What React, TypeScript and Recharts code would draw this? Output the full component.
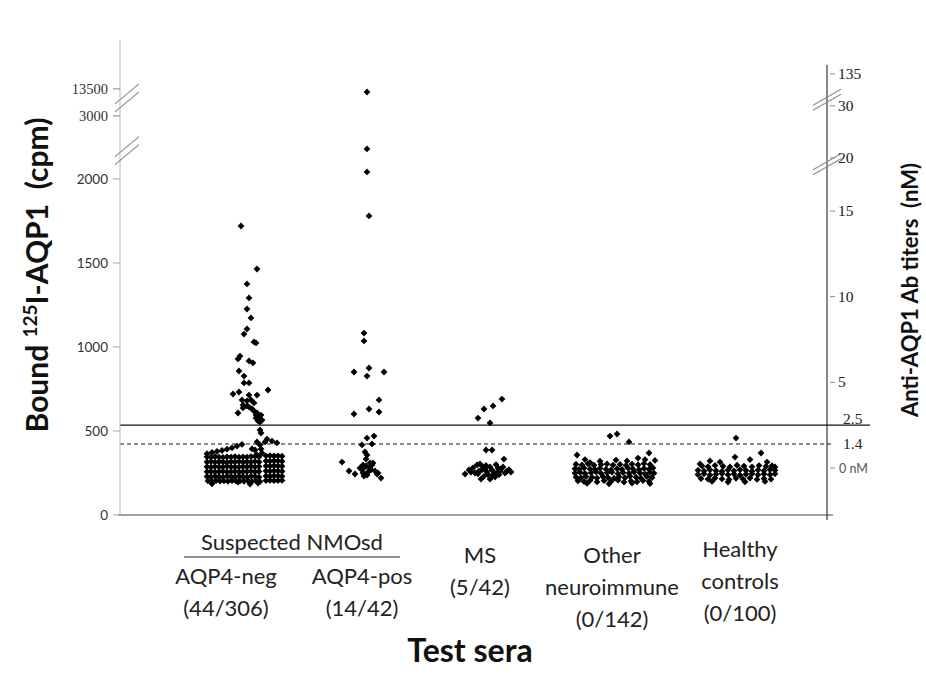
import React from "react";
import { ScatterChart, Scatter, XAxis, YAxis, ReferenceLine, ReferenceDot } from "recharts";

// layout
const W = 926;
const H = 685;
const PLOT_LEFT = 120;
const PLOT_RIGHT = 827;
const PLOT_TOP = 40;
const PLOT_BOTTOM = 515;
const SANS = "Lato, 'Open Sans', sans-serif";
const SERIF = "'Liberation Serif', 'DejaVu Serif', serif";

// broken left axis (cpm) -> display units
const cpmBreaks = [0, 2000, 3000, 13500];
const cpmDisplay = [0, 2000, 2375, 2536];
// right axis (nM) -> same display units
const nmBreaks = [0, 15, 20, 30, 135];
const nmDisplay = [280, 1809, 2125, 2435, 2625];
const Y_MAX = 2827;

const leftTicks = [0, 500, 1000, 1500, 2000, 3000, 13500];
const rightTicks = [0, 1.4, 2.5, 5, 10, 15, 20, 30, 135];
const rightTickLabels = ["0 nM", "1.4", "2.5", "5", "10", "15", "20", "30", "135"];
const leftBreakCpm = [2450, 10000];
const rightBreakNm = [19.4, 50];

const cutoffSolidNm = 2.5;
const cutoffDashedNm = 1.4;

// x axis: jitter positions, label positions
const groupLabelX = [106, 172, 242, 360, 492, 620];
const groupLabels = [
  ["AQP4-neg", "(44/306)"],
  ["Suspected NMOsd"],
  ["AQP4-pos", "(14/42)"],
  ["MS", "(5/42)"],
  ["Other", "neuroimmune", "(0/142)"],
  ["Healthy", "controls", "(0/100)"],
];

// [jitter x, cpm]
const aqp4Neg: [number, number][] = [
  [121, 1720], [137, 1464], [127, 1375], [129, 1292], [127, 1226], [131, 1173], [127, 1107], [124, 1077],
  [134, 1030], [136, 1024], [120, 946], [118, 929], [129, 917], [133, 905], [119, 857], [124, 827],
  [124, 786], [129, 786], [113, 720], [119, 732], [129, 714], [137, 714], [148, 744],
  [118, 607], [123, 655], [127, 649], [129, 643], [132, 631], [134, 619], [137, 607], [138, 589],
  [139, 577], [138, 560], [140, 554], [136, 577], [131, 685], [134, 667], [141, 595], [136, 595],
  [139, 565], [142, 565], [123, 637], [127, 679], [122, 685],
  [140, 506], [141, 488], [147, 452], [152, 440], [157, 429], [145, 435], [137, 435], [140, 417],
  [141, 393], [132, 393], [137, 357], [135, 387], [142, 369],
  [87, 365], [92, 372], [97, 378], [102, 384], [107, 392], [112, 400], [117, 410], [122, 420],
  [87, 346], [91, 344], [95, 347], [99, 345], [103, 343], [107, 346], [111, 345], [115, 348], [119, 344],
  [123, 346], [127, 345], [131, 348], [135, 350], [139, 346], [146, 352], [150, 353], [154, 351], [158, 352], [162, 350],
  [87, 316], [91, 318], [95, 315], [99, 317], [103, 316], [107, 314], [111, 317], [115, 316], [119, 318],
  [123, 315], [127, 317], [131, 316], [135, 319], [139, 315], [146, 322], [150, 321], [154, 323], [158, 322], [162, 320],
  [87, 287], [91, 285], [95, 288], [99, 286], [103, 287], [107, 289], [111, 286], [115, 287], [119, 285],
  [123, 288], [127, 287], [131, 290], [135, 286], [139, 288], [146, 292], [150, 291], [154, 293], [158, 292], [162, 290],
  [87, 258], [91, 259], [95, 257], [99, 258], [103, 260], [107, 257], [111, 258], [115, 259], [119, 256],
  [123, 258], [127, 259], [131, 261], [135, 257], [139, 259], [146, 262], [150, 261], [154, 263], [158, 262], [162, 260],
  [87, 229], [91, 228], [95, 230], [99, 229], [103, 227], [107, 230], [111, 229], [115, 228], [119, 230],
  [123, 229], [127, 227], [131, 231], [135, 229], [139, 226], [146, 232], [150, 231], [154, 233], [158, 232], [162, 230],
  [88, 203], [92, 201], [96, 204], [100, 202], [104, 203], [108, 201], [112, 204], [116, 202], [120, 203],
  [124, 201], [128, 204], [132, 200], [136, 203], [140, 199], [146, 205], [150, 206], [154, 204], [158, 205], [162, 206],
  [92, 186], [130, 184], [138, 190], [118, 196],
];

const aqp4Pos: [number, number][] = [
  [247, 12300], [247, 2476], [247, 2111], [249, 1780], [244, 1083], [244, 1036], [234, 851], [249, 875],
  [247, 827], [264, 851], [259, 685], [234, 601], [249, 631], [259, 613],
  [247, 458], [254, 470], [242, 417], [252, 423], [245, 375], [247, 357], [246, 333], [222, 315],
  [250, 310], [253, 310], [252, 298], [243, 298], [245, 286], [229, 262], [235, 244], [242, 268],
  [243, 250], [244, 232], [247, 238], [257, 244], [261, 220], [250, 280], [248, 256], [251, 268],
  [255, 262], [246, 292], [240, 280], [258, 250],
];

const ms: [number, number][] = [
  [382, 690], [373, 649], [364, 631], [358, 577], [370, 548], [366, 387], [372, 387], [384, 333],
  [345, 244], [349, 268], [353, 280], [357, 298], [360, 304], [363, 286], [362, 268], [355, 250],
  [361, 214], [370, 214], [367, 256], [372, 268], [374, 250], [377, 256], [378, 280], [381, 274],
  [383, 286], [387, 262], [391, 256], [370, 286], [375, 226], [365, 275], [359, 262], [368, 240],
  [380, 262], [385, 250], [389, 270], [376, 300], [351, 255], [364, 230], [373, 235], [379, 240],
  [366, 295], [358, 245],
];

const otherNeuro: [number, number][] = [
  [490, 470], [497, 482], [509, 435], [457, 357], [529, 369], [496, 327], [518, 339], [480, 320],
  [465, 330], [507, 322], [525, 330], [470, 312], [535, 325],
  [456, 302], [462, 298], [468, 305], [474, 296], [481, 300], [487, 304], [493, 297], [500, 301],
  [506, 295], [512, 303], [518, 299], [524, 306], [530, 300],
  [455, 276], [459, 272], [464, 279], [470, 274], [475, 270], [480, 278], [486, 273], [491, 268],
  [497, 276], [502, 271], [508, 279], [513, 274], [519, 270], [524, 277], [529, 272], [533, 280],
  [455, 250], [460, 254], [465, 247], [471, 252], [476, 256], [481, 248], [487, 251], [492, 255],
  [498, 246], [503, 253], [509, 249], [514, 256], [520, 250], [525, 245], [530, 253], [534, 249],
  [456, 226], [461, 222], [466, 229], [472, 224], [477, 220], [483, 228], [488, 223], [494, 219],
  [499, 227], [505, 222], [510, 230], [516, 225], [521, 219], [527, 228], [532, 222],
  [458, 203], [464, 199], [470, 206], [477, 197], [484, 204], [491, 200], [498, 207], [504, 196],
  [511, 202], [517, 198], [523, 205], [529, 199],
  [467, 188], [489, 186], [512, 190], [530, 187],
];

const healthy: [number, number][] = [
  [616, 458], [641, 369], [615, 345], [600, 315], [580, 304], [647, 315], [655, 286], [630, 330], [590, 322],
  [582, 292], [588, 288], [595, 295], [603, 290], [610, 286], [617, 296], [624, 291], [632, 287],
  [639, 294], [646, 289], [652, 293],
  [578, 266], [584, 262], [590, 269], [596, 264], [602, 260], [608, 268], [614, 263], [620, 270],
  [626, 265], [632, 261], [638, 268], [644, 263], [650, 270], [655, 266],
  [578, 241], [584, 245], [590, 238], [596, 243], [602, 247], [608, 240], [614, 244], [620, 237],
  [626, 242], [632, 246], [638, 239], [644, 244], [650, 240], [655, 245],
  [581, 217], [588, 213], [595, 220], [602, 215], [609, 211], [616, 218], [623, 214], [630, 220],
  [637, 212], [644, 217], [651, 213],
  [608, 196], [645, 200], [592, 200], [625, 198],
];

function piecewise(v: number, xs: number[], ys: number[]) {
  for (let i = 1; i < xs.length; i++) {
    if (v <= xs[i] || i === xs.length - 1) {
      const t = (v - xs[i - 1]) / (xs[i] - xs[i - 1]);
      return ys[i - 1] + t * (ys[i] - ys[i - 1]);
    }
  }
  return ys[0];
}
const cpmToY = (v: number) => piecewise(v, cpmBreaks, cpmDisplay);
const nmToY = (v: number) => piecewise(v, nmBreaks, nmDisplay);

const toPoints = (arr: [number, number][]) => arr.map(([x, cpm]) => ({ x, y: cpmToY(cpm), cpm }));
const series = [aqp4Neg, aqp4Pos, ms, otherNeuro, healthy].map(toPoints);

function Diamond(props: any) {
  const { cx, cy } = props;
  if (cx == null || cy == null) return null;
  const r = 3.4;
  return <path d={`M${cx},${cy - r}L${cx + r},${cy}L${cx},${cy + r}L${cx - r},${cy}Z`} fill="#000" />;
}

function LeftTick(props: any) {
  const { y, payload } = props;
  const i = leftTicks.findIndex((v) => Math.abs(cpmToY(v) - payload.value) < 0.5);
  if (i < 0) return null;
  const upper = leftTicks[i] >= 3000;
  return (
    <g>
      <line x1={PLOT_LEFT - 7} x2={PLOT_LEFT} y1={y} y2={y} stroke={upper ? "#6d83ad" : "#a4a8b2"} />
      <text
        x={PLOT_LEFT - 12}
        y={y}
        dy={5}
        textAnchor="end"
        fontFamily={upper ? SERIF : SANS}
        fontSize={upper ? 14.5 : 13.5}
        fill="#333"
      >
        {leftTicks[i]}
      </text>
    </g>
  );
}

function RightTick(props: any) {
  const { y, payload } = props;
  const i = rightTicks.findIndex((v) => Math.abs(nmToY(v) - payload.value) < 0.5);
  if (i < 0) return null;
  const v = rightTicks[i];
  const isCut = v === cutoffSolidNm || v === cutoffDashedNm;
  const isZero = v === 0;
  return (
    <g>
      {!isCut && <line x1={PLOT_RIGHT + 3} x2={PLOT_RIGHT + 8} y1={y} y2={y} stroke="#888" />}
      <text
        x={PLOT_RIGHT + (isZero ? 12 : isCut ? 16 : 11)}
        y={v === cutoffSolidNm ? y - 6 : y}
        dy={5}
        fontFamily={isZero ? SANS : SERIF}
        fontSize={isZero ? 12.5 : 15.5}
        fill={isZero ? "#555" : "#222"}
      >
        {rightTickLabels[i]}
      </text>
    </g>
  );
}

function XTick(props: any) {
  const { x, payload } = props;
  const i = groupLabelX.indexOf(payload.value);
  if (i < 0) return null;
  const lines = groupLabels[i];
  // baselines per group
  const starts = [584, 550, 584, 563, 563, 557];
  const style = { fontFamily: SANS, fontSize: 22, fill: "#222" };
  return (
    <g>
      {lines.map((t, k) => (
        <text key={k} x={x} y={starts[i] + k * 32} textAnchor="middle" {...style}>
          {t}
        </text>
      ))}
      {i === 1 && <line x1={x - 108} x2={x + 108} y1={557} y2={557} stroke="#222" strokeWidth={1.2} />}
    </g>
  );
}

function BreakMark(props: any) {
  const { cx, cy, gap = 8, dx = 12, dy = 10 } = props;
  if (cx == null || cy == null) return null;
  return (
    <g stroke="#8a8a8a" strokeWidth={1.1}>
      <line x1={cx - dx} y1={cy - gap / 2 + dy} x2={cx + dx} y2={cy - gap / 2 - dy} />
      <line x1={cx - dx} y1={cy + gap / 2 + dy} x2={cx + dx} y2={cy + gap / 2 - dy} />
    </g>
  );
}

function LeftTitle() {
  return (
    <text
      x={48}
      y={275}
      transform="rotate(-90 48 275)"
      textAnchor="middle"
      fontFamily={SANS}
      fontWeight={700}
      fontSize={30}
      fill="#111"
    >
      Bound{"\u00a0"}
      <tspan fontSize={19} dy={-11}>
        125
      </tspan>
      <tspan dy={11}>I-AQP1{"\u00a0\u00a0"}(cpm)</tspan>
    </text>
  );
}

function RightTitle() {
  return (
    <text
      x={918}
      y={290}
      transform="rotate(-90 918 290)"
      textAnchor="middle"
      fontFamily={SANS}
      fontWeight={700}
      fontSize={22}
      fill="#111"
    >
      Anti-AQP1 Ab titers{"\u00a0\u00a0"}(nM)
    </text>
  );
}

function XTitle() {
  return (
    <text x={470} y={662} textAnchor="middle" fontFamily={SANS} fontWeight={700} fontSize={32} fill="#111">
      Test sera
    </text>
  );
}

export default function App() {
  const xMax = PLOT_RIGHT - PLOT_LEFT;
  return (
    <div style={{ position: "absolute", left: 0, top: 0, width: W, height: H, background: "#fff" }}>
      <ScatterChart
        width={W}
        height={H}
        margin={{ top: PLOT_TOP, left: PLOT_LEFT - 60, right: W - PLOT_RIGHT - 60, bottom: H - PLOT_BOTTOM - 30 }}
      >
        <XAxis
          type="number"
          dataKey="x"
          domain={[0, xMax]}
          ticks={groupLabelX}
          interval={0}
          axisLine={false}
          tickLine={false}
          tick={<XTick />}
          height={30}
          label={<XTitle />}
        />
        <YAxis
          yAxisId="cpm"
          type="number"
          dataKey="y"
          domain={[0, Y_MAX]}
          ticks={leftTicks.map(cpmToY)}
          interval={0}
          width={60}
          axisLine={{ stroke: "#b6bac6" }}
          tickLine={false}
          tick={<LeftTick />}
          label={<LeftTitle />}
        />
        <YAxis
          yAxisId="nM"
          orientation="right"
          type="number"
          dataKey="y"
          domain={[0, Y_MAX]}
          allowDataOverflow
          ticks={rightTicks.map(nmToY)}
          interval={0}
          width={60}
          axisLine={false}
          tickLine={false}
          tick={<RightTick />}
          label={<RightTitle />}
        />
        {/* frame lines */}
        <ReferenceLine
          yAxisId="cpm"
          segment={[{ x: -2, y: 0 }, { x: xMax + 6, y: 0 }]}
          stroke="#444"
          ifOverflow="visible"
        />
        <ReferenceLine
          yAxisId="cpm"
          segment={[{ x: xMax, y: -30 }, { x: xMax, y: 2679 }]}
          stroke="#111"
          ifOverflow="visible"
        />
        {/* cutoffs, given in nM on the shared display scale */}
        <ReferenceLine
          yAxisId="cpm"
          segment={[{ x: 0, y: nmToY(cutoffSolidNm) }, { x: 750, y: nmToY(cutoffSolidNm) }]}
          stroke="#111"
          strokeWidth={1.2}
          ifOverflow="visible"
        />
        <ReferenceLine
          yAxisId="cpm"
          segment={[{ x: 0, y: nmToY(cutoffDashedNm) }, { x: xMax + 5, y: nmToY(cutoffDashedNm) }]}
          stroke="#111"
          strokeDasharray="4 3"
          ifOverflow="visible"
        />
        {leftBreakCpm.map((v) => (
          <ReferenceDot
            key={`lb${v}`}
            yAxisId="cpm"
            x={7}
            y={cpmToY(v)}
            ifOverflow="visible"
            shape={(p: any) => <BreakMark {...p} />}
          />
        ))}
        {rightBreakNm.map((v) => (
          <ReferenceDot
            key={`rb${v}`}
            yAxisId="cpm"
            x={xMax}
            y={nmToY(v)}
            ifOverflow="visible"
            shape={(p: any) => <BreakMark {...p} gap={5} dx={14} dy={8} />}
          />
        ))}
        {series.map((d, k) => (
          <Scatter
            key={k}
            yAxisId="cpm"
            data={d}
            fill="#000"
            isAnimationActive={false}
            shape={(p: any) => <Diamond {...p} />}
          />
        ))}
      </ScatterChart>
    </div>
  );
}
